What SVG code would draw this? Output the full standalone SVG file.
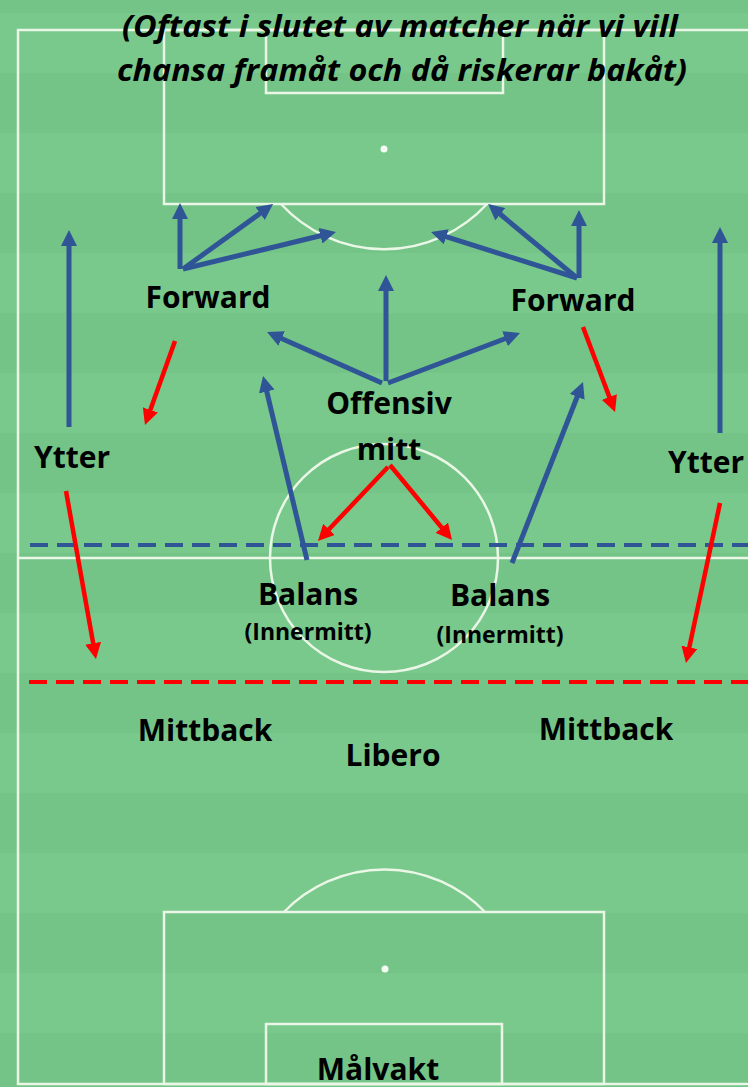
<svg xmlns="http://www.w3.org/2000/svg" width="748" height="1087" viewBox="0 0 748 1087">
  <style>
    .band { fill: #74C487; }
    .pitch { fill: none; stroke: #EAF6E6; stroke-width: 2.5; }
    .spot { fill: #F4FBF2; }
    .lbl { font-family: "Open Sans", "Liberation Sans", sans-serif; font-weight: 700; font-size: 30px; fill: #000; text-anchor: middle; }
    .sub { font-size: 23px; }
    .title { font-family: "Open Sans", "Liberation Sans", sans-serif; font-weight: 700; font-style: italic; font-size: 30px; fill: #000; text-anchor: middle; }
    .blue { stroke: #2F5597; stroke-width: 5; fill: none; marker-end: url(#headBlue); }
    .red { stroke: #FF0000; stroke-width: 4.5; fill: none; marker-end: url(#headRed); }
    .dash { fill: none; stroke-width: 4; stroke-dasharray: 18 9; }
  </style>
  <defs>
    <marker id="headBlue" viewBox="0 0 16 16" markerWidth="16" markerHeight="16" markerUnits="userSpaceOnUse" refX="2" refY="8" orient="auto">
      <path d="M0,0 L16,8 L0,16 z" fill="#2F5597"/>
    </marker>
    <marker id="headRed" viewBox="0 0 16 16" markerWidth="16" markerHeight="16" markerUnits="userSpaceOnUse" refX="2" refY="8" orient="auto">
      <path d="M0,0 L16,8 L0,16 z" fill="#FF0000"/>
    </marker>
  </defs>

  <!-- grass with mowing stripes -->
  <rect x="0" y="0" width="748" height="1087" fill="#78C98B"/>
  <g id="stripes">
    <rect class="band" x="0" y="0" width="748" height="13"/>
    <rect class="band" x="0" y="73" width="748" height="60"/>
    <rect class="band" x="0" y="193" width="748" height="60"/>
    <rect class="band" x="0" y="313" width="748" height="60"/>
    <rect class="band" x="0" y="433" width="748" height="60"/>
    <rect class="band" x="0" y="553" width="748" height="60"/>
    <rect class="band" x="0" y="673" width="748" height="60"/>
    <rect class="band" x="0" y="793" width="748" height="60"/>
    <rect class="band" x="0" y="913" width="748" height="60"/>
    <rect class="band" x="0" y="1033" width="748" height="54"/>
  </g>

  <!-- pitch markings -->
  <g id="markings">
    <path class="pitch" d="M750,30 H18 V1084 H750"/>
    <line class="pitch" x1="18" y1="558" x2="750" y2="558"/>
    <circle class="pitch" cx="384" cy="558" r="114"/>
    <rect class="pitch" x="164" y="30" width="440" height="174"/>
    <rect class="pitch" x="266" y="30" width="237" height="63"/>
    <path class="pitch" d="M281,204 A140,140 0 0 0 487,204"/>
    <circle class="spot" cx="384" cy="149" r="3.5"/>
    <rect class="pitch" x="164" y="912" width="440" height="172"/>
    <rect class="pitch" x="266" y="1024" width="236" height="60"/>
    <path class="pitch" d="M284,912 A140,140 0 0 1 485,912"/>
    <circle class="spot" cx="385" cy="969" r="3.5"/>
  </g>

  <!-- heading -->
  <g id="heading">
    <text class="title" x="400" y="37" textLength="556" lengthAdjust="spacingAndGlyphs">(Oftast i slutet av matcher när vi vill</text>
    <text class="title" x="402" y="81" textLength="570" lengthAdjust="spacingAndGlyphs">chansa framåt och då riskerar bakåt)</text>
  </g>

  <!-- connectors: runs and support lines -->
  <g id="connectors">
    <line class="dash" stroke="#2F5597" x1="30" y1="545" x2="748" y2="545"/>
    <line class="dash" stroke="#FF0000" x1="29" y1="682" x2="748" y2="682"/>

    <line class="blue" x1="69" y1="427" x2="69" y2="244"/>
    <line class="blue" x1="180" y1="269" x2="180" y2="217"/>
    <line class="blue" x1="183" y1="269" x2="261.7" y2="212.3"/>
    <line class="blue" x1="183" y1="269" x2="322.4" y2="235.3"/>
    <line class="blue" x1="386" y1="381" x2="386" y2="289"/>
    <line class="blue" x1="382" y1="383" x2="279.8" y2="337.7"/>
    <line class="blue" x1="388" y1="383" x2="506.9" y2="338"/>
    <line class="blue" x1="579" y1="278" x2="579" y2="224"/>
    <line class="blue" x1="577" y1="278" x2="498.8" y2="213"/>
    <line class="blue" x1="577" y1="278" x2="444.4" y2="236.2"/>
    <line class="blue" x1="720" y1="433" x2="720" y2="241"/>
    <line class="blue" x1="307" y1="560" x2="266.3" y2="389.6"/>
    <line class="blue" x1="512" y1="563" x2="577.9" y2="395"/>

    <line class="red" x1="175" y1="341" x2="149.7" y2="411.8"/>
    <line class="red" x1="583" y1="327" x2="610.1" y2="398.9"/>
    <line class="red" x1="66" y1="491" x2="93.5" y2="645.2"/>
    <line class="red" x1="720" y1="503" x2="688.9" y2="649.3"/>
    <line class="red" x1="388" y1="467" x2="327.6" y2="530.8"/>
    <line class="red" x1="390" y1="465" x2="443.1" y2="529.2"/>
  </g>

  <!-- players -->
  <g id="forward-left"><text class="lbl" x="208" y="308">Forward</text></g>
  <g id="forward-right"><text class="lbl" x="573" y="311">Forward</text></g>
  <g id="offensiv-mitt"><text class="lbl" x="389" y="414">Offensiv</text><text class="lbl" x="389" y="460">mitt</text></g>
  <g id="ytter-left"><text class="lbl" x="72" y="468">Ytter</text></g>
  <g id="ytter-right"><text class="lbl" x="706" y="473">Ytter</text></g>
  <g id="balans-left"><text class="lbl" x="308" y="605">Balans</text><text class="lbl sub" x="308" y="640">(Innermitt)</text></g>
  <g id="balans-right"><text class="lbl" x="500" y="606">Balans</text><text class="lbl sub" x="500" y="643">(Innermitt)</text></g>
  <g id="mittback-left"><text class="lbl" x="205" y="741">Mittback</text></g>
  <g id="mittback-right"><text class="lbl" x="606" y="740">Mittback</text></g>
  <g id="libero"><text class="lbl" x="393" y="766">Libero</text></g>
  <g id="malvakt"><text class="lbl" x="378" y="1080">Målvakt</text></g>
</svg>
